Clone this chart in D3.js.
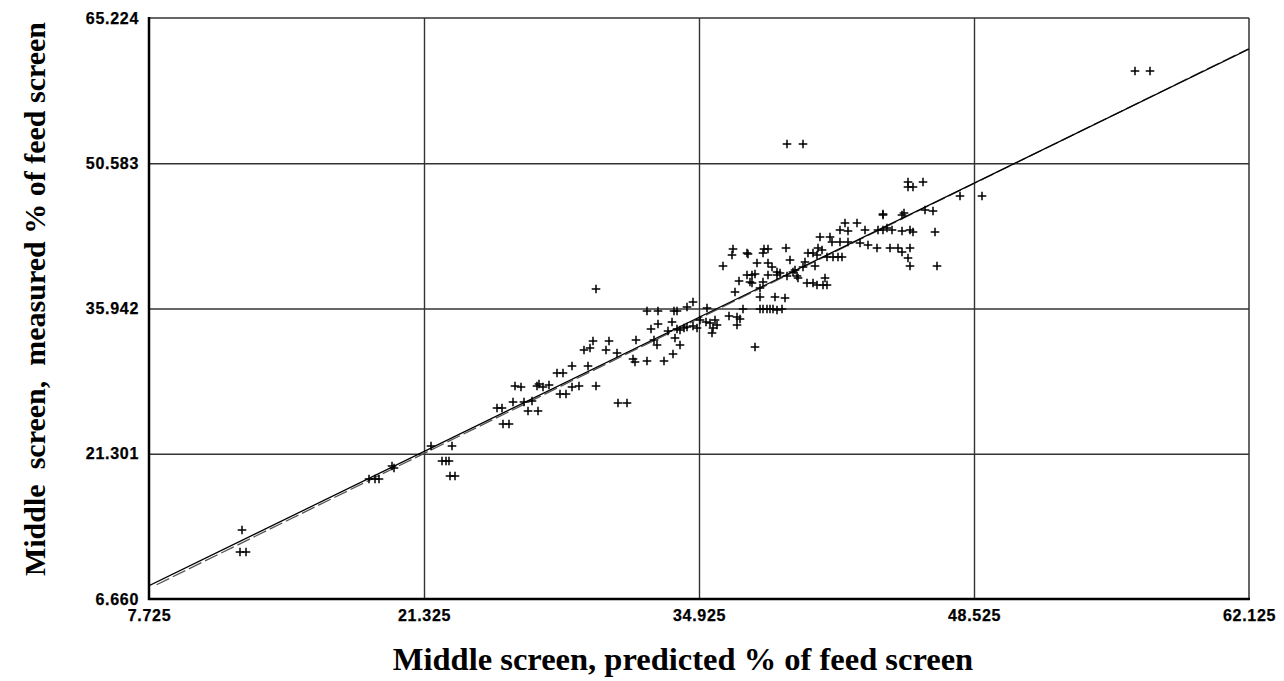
<!DOCTYPE html>
<html><head><meta charset="utf-8">
<script src="https://cdn.jsdelivr.net/npm/d3@7"></script>
<style>
html,body{margin:0;padding:0;background:#fff;}
svg{display:block;}
</style></head>
<body>
<svg id="chart" width="1284" height="681"></svg>
<script>
// Predicted (x) values
const predicted = [
 12.31,12.23,12.52,18.59,18.90,19.11,19.74,19.84,21.66,22.69,22.20,22.41,22.58,22.61,22.86,
 29.82,32.37,32.91,33.69,33.85,34.35,34.64,32.88,33.61,32.55,33.41,33.82,33.99,34.18,34.32,34.64,34.81,
 31.79,32.72,32.83,33.75,33.99,33.65,29.70,30.49,29.55,29.22,30.33,30.89,31.68,31.78,32.34,33.21,
 28.66,29.42,27.89,28.21,25.83,26.11,26.90,27.03,27.23,27.51,28.63,29.01,29.82,28.05,28.33,
 24.92,25.17,25.71,26.27,26.65,26.45,26.98,25.25,25.54,30.93,31.38,
 40.91,41.40,41.49,36.59,36.54,37.28,37.33,38.08,38.14,38.35,39.23,40.30,40.58,40.83,40.99,40.78,41.24,41.57,41.81,
 36.13,37.78,38.35,38.52,39.43,40.17,40.66,38.77,38.93,39.67,39.59,40.08,
 37.28,37.53,37.69,38.35,38.77,39.26,39.76,39.84,36.92,37.45,37.53,37.94,38.11,40.25,40.58,40.75,41.16,41.24,41.07,
 36.71,37.94,38.68,39.18,37.12,37.94,38.11,38.27,38.44,38.60,38.77,39.02,35.31,36.42,36.79,36.95,36.79,
 34.98,35.27,35.47,35.72,35.80,35.55,35.63,37.69,
 45.28,46.02,45.28,45.52,47.83,48.91,46.10,46.48,44.04,44.01,44.95,45.08,42.15,42.72,41.90,42.31,43.13,43.79,44.04,44.21,44.46,44.95,45.36,45.52,46.60,
 41.90,42.31,42.89,43.30,43.71,44.37,44.78,44.95,45.36,45.28,45.36,46.68,41.98,
 56.49,57.23,39.26,40.05
];
// Measured (y) values
const measured = [
 13.58,11.43,11.43,18.76,18.76,18.76,20.07,19.86,22.11,22.11,20.60,20.60,20.60,19.06,19.06,
 37.88,35.69,35.69,35.69,35.69,36.12,36.63,34.38,34.58,33.85,33.70,33.85,33.77,33.95,34.11,34.18,33.95,
 32.77,32.77,32.26,32.94,32.26,31.36,32.67,32.67,31.99,31.76,31.76,31.43,30.82,30.58,30.68,30.68,
 30.15,30.15,29.41,29.41,28.16,28.00,28.16,28.30,28.00,28.23,28.00,28.16,28.16,27.32,27.32,
 25.88,25.88,26.49,26.49,26.65,25.64,25.64,24.30,24.30,26.45,26.45,
 43.18,43.18,42.68,41.91,41.34,41.57,41.41,41.51,41.91,41.91,42.01,41.57,41.57,42.01,41.84,41.34,41.16,41.16,41.16,
 40.23,40.50,40.50,40.16,40.83,40.66,40.26,39.65,39.49,39.82,39.65,40.10,
 39.32,39.32,39.42,39.32,39.32,39.22,39.22,38.99,38.74,38.64,38.48,38.04,38.64,38.48,38.48,38.31,38.99,38.31,38.31,
 37.64,37.13,37.13,36.97,35.86,35.86,35.86,35.86,35.86,35.86,35.79,35.86,35.96,35.19,35.12,34.85,34.28,
 34.78,34.61,34.45,34.78,34.28,33.44,33.95,32.03,
 48.72,48.72,48.16,48.16,47.31,47.31,45.87,45.80,45.47,45.37,45.37,45.54,44.53,44.53,43.86,43.78,43.86,43.86,43.86,44.03,43.86,43.78,43.86,43.68,43.68,
 42.68,42.68,42.51,42.34,42.07,42.07,42.01,41.67,42.01,41.06,40.23,40.23,41.16,
 59.88,59.88,52.52,52.52
];
// Fitted line (solid) and reference line (dashed)
const fitX = [7.725, 62.125];
const fitY = [8.0, 62.1];
const refX = [8.1, 62.125];
const refY = [8.1, 62.15];
// Tick values
const xTicks = [7.725, 21.325, 34.925, 48.525, 62.125];
const yTicks = [6.660, 21.301, 35.942, 50.583, 65.224];
const xTitle = "Middle screen, predicted % of feed screen";
const yTitle = "Middle  screen,  measured % of feed screen";

const svg = d3.select("#chart");
const L = 149, R = 1249, T = 18, B = 599;
const x = d3.scaleLinear().domain([xTicks[0], xTicks[4]]).range([L, R]);
const y = d3.scaleLinear().domain([yTicks[0], yTicks[4]]).range([B, T]);

// grid lines
const gridX = svg.append("g").attr("transform", `translate(0,${B})`)
  .call(d3.axisBottom(x).tickValues(xTicks.slice(1,4)).tickSize(-(B-T)).tickFormat(""));
gridX.select(".domain").remove();
gridX.selectAll("line").attr("stroke", "#333").attr("stroke-width", 1.4);
const gridY = svg.append("g").attr("transform", `translate(${L},0)`)
  .call(d3.axisLeft(y).tickValues(yTicks.slice(1,4)).tickSize(-(R-L)).tickFormat(""));
gridY.select(".domain").remove();
gridY.selectAll("line").attr("stroke", "#333").attr("stroke-width", 1.4);

// frame
svg.append("line").attr("x1", L).attr("x2", R).attr("y1", T).attr("y2", T).attr("stroke", "#333").attr("stroke-width", 1.5);
svg.append("line").attr("x1", R).attr("x2", R).attr("y1", T).attr("y2", B).attr("stroke", "#333").attr("stroke-width", 1.5);
svg.append("line").attr("x1", L).attr("x2", L).attr("y1", T - 1).attr("y2", B + 1).attr("stroke", "#000").attr("stroke-width", 2.5);
svg.append("line").attr("x1", L - 1).attr("x2", R + 1).attr("y1", B).attr("y2", B).attr("stroke", "#000").attr("stroke-width", 2.5);

function styleTicks(g) {
  g.select(".domain").remove();
  g.attr("font-family", null).attr("font-size", null);
  g.selectAll("text")
    .style("font-family", "'Liberation Sans', Arial, sans-serif")
    .style("font-weight", "bold")
    .style("font-size", "16px")
    .style("letter-spacing", "0.7px")
    .attr("fill", "#000")
    .attr("stroke", "#000").attr("stroke-width", 0.25);
}
// tick labels via axes
const ax = svg.append("g").attr("transform", `translate(0,${B + 10})`)
  .call(d3.axisBottom(x).tickValues(xTicks).tickSize(0).tickPadding(1).tickFormat(d3.format(".3f")));
styleTicks(ax);
ax.selectAll("text").attr("dy", "0.71em");
const ay = svg.append("g").attr("transform", `translate(${L - 10},0)`)
  .call(d3.axisLeft(y).tickValues(yTicks).tickSize(0).tickPadding(0).tickFormat(d3.format(".3f")));
styleTicks(ay);

// clip for lines
svg.append("clipPath").attr("id", "clip").append("rect")
  .attr("x", L).attr("y", T).attr("width", R - L).attr("height", B - T);

const line = d3.line().x(d => x(d[0])).y(d => y(d[1]));
svg.append("path").attr("clip-path", "url(#clip)")
  .attr("d", line(refX.map((v, i) => [v, refY[i]])))
  .attr("fill", "none").attr("stroke", "#555").attr("stroke-width", 1.3).attr("stroke-dasharray", "14,4");
svg.append("path").attr("clip-path", "url(#clip)")
  .attr("d", line(fitX.map((v, i) => [v, fitY[i]])))
  .attr("fill", "none").attr("stroke", "#000").attr("stroke-width", 1.3);

// points as plus marks
const s = 4.3;
const pts = svg.append("g").attr("stroke", "#000").attr("stroke-width", 1.5).attr("fill", "none");
pts.selectAll("path").data(predicted.map((v, i) => [v, measured[i]])).join("path")
  .attr("d", d => {
    const px = Math.round(x(d[0])), py = Math.round(y(d[1]));
    return `M${px - s},${py}H${px + s}M${px},${py - s}V${py + s}`;
  });

// titles
svg.append("text").attr("x", 683).attr("y", 670)
  .attr("text-anchor", "middle")
  .style("font-family", "'Liberation Serif', 'Times New Roman', serif")
  .style("font-weight", "bold").style("font-size", "32.5px")
  .text(xTitle);
svg.append("text").attr("transform", "translate(45,299) rotate(-90)")
  .attr("text-anchor", "middle")
  .style("font-family", "'Liberation Serif', 'Times New Roman', serif")
  .style("font-weight", "bold").style("font-size", "30px")
  .style("white-space", "pre")
  .text(yTitle);
</script>
</body></html>
